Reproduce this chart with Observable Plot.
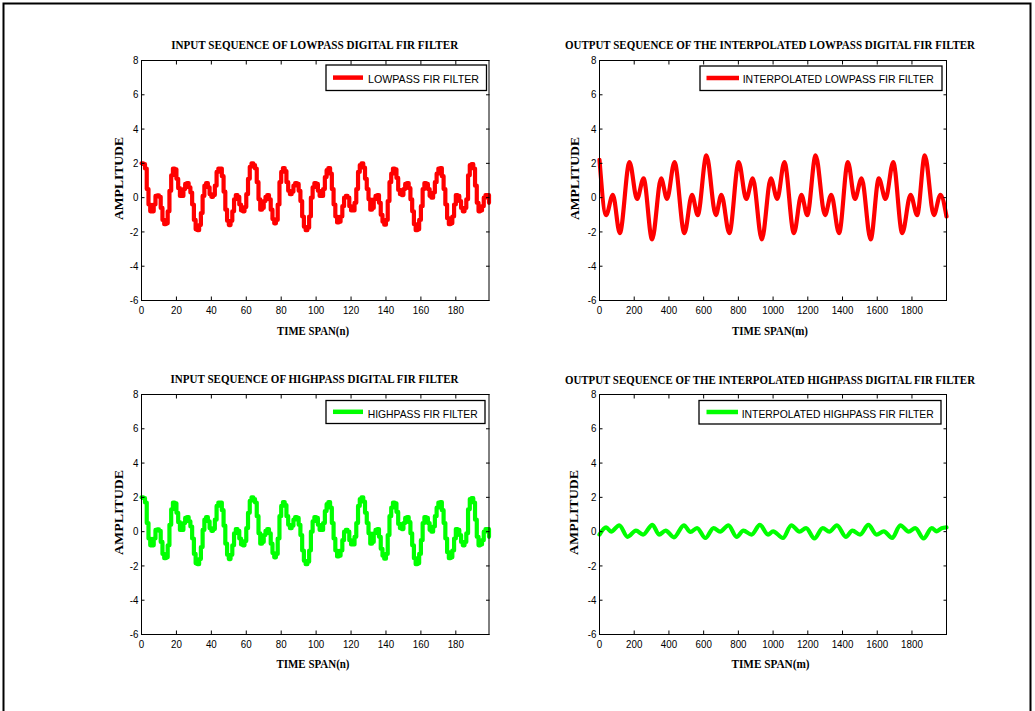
<!DOCTYPE html>
<html><head><meta charset="utf-8">
<script src="https://cdn.jsdelivr.net/npm/d3@7"></script>
<script src="https://cdn.jsdelivr.net/npm/@observablehq/plot@0.6"></script>
<style>
html,body{margin:0;padding:0;background:#fff;}
#root{position:relative;width:1035px;height:711px;overflow:hidden;background:#fff;}
#root > svg{position:absolute;overflow:visible;}
</style></head><body><div id="root"></div>
<script>
// ---------- DATA ----------
// input sequence x(n), n = 0..199 (same sequence feeds both filters)
const inputSeq = [
  2.0, 1.95, 1.7, 0.5, -0.4, -0.8, -0.8, -0.4, 0.1, 0.13,
  0.05, -0.6, -1.3, -1.55, -1.5, -0.8, 0.4, 1.3, 1.7, 1.65,
  1.1, 0.55, 0.1, 0.1, 0.5, 0.8, 0.85, 0.6, 0.3, -0.4,
  -1.3, -1.85, -1.9, -1.6, -0.9, 0.1, 0.7, 0.85, 0.6, 0.2,
  0.05, 0.15, 0.7, 1.5, 1.7, 1.7, 1.25, 0.35, -0.7, -1.35,
  -1.6, -1.35, -0.8, -0.1, 0.15, 0.05, -0.4, -0.75, -0.8, -0.55,
  0.2, 1.1, 1.8, 2.0, 1.9, 1.7, 0.9, -0.1, -0.7, -0.6,
  -0.2, 0.05, 0.15, -0.1, -0.7, -1.25, -1.5, -1.3, -0.4, 0.9,
  1.5, 1.73, 1.55, 0.9, 0.4, 0.2, 0.35, 0.7, 0.85, 0.8,
  0.4, -0.2, -1.1, -1.7, -1.9, -1.75, -1.1, 0.0, 0.6, 0.85,
  0.8, 0.4, 0.1, 0.1, 0.5, 1.2, 1.6, 1.73, 1.4, 0.5,
  -0.4, -1.1, -1.45, -1.4, -1.1, -0.5, 0.0, 0.1, 0.0, -0.5,
  -0.75, -0.75, -0.3, 0.5, 1.5, 1.9, 2.0, 1.75, 1.1, 0.5,
  -0.1, -0.7, -0.6, -0.1, 0.1, 0.15, -0.3, -1.0, -1.4, -1.58,
  -1.3, -0.2, 0.9, 1.4, 1.7, 1.65, 1.15, 0.45, 0.2, 0.15,
  0.5, 0.8, 0.85, 0.55, -0.1, -0.8, -1.55, -1.9, -1.85, -1.3,
  -0.5, 0.5, 0.85, 0.8, 0.5, 0.1, 0.0, 0.3, 0.9, 1.4,
  1.7, 1.73, 1.25, 0.5, -0.4, -1.2, -1.55, -1.5, -1.1, -0.4,
  0.15, 0.1, -0.2, -0.6, -0.8, -0.6, -0.1, 1.3, 1.9, 1.95,
  1.7, 0.7, -0.3, -0.8, -0.75, -0.5, 0.0, 0.15, 0.15, -0.3
];
// interpolated lowpass output: m positions and amplitudes of turning points
const lowOutM = [0, 38, 77, 117, 173, 216, 254, 303, 355, 389, 432, 489, 533, 566, 616, 670, 702, 748, 802, 845, 883, 935, 987, 1024, 1065, 1120, 1163, 1197, 1245, 1299, 1335, 1380, 1431, 1471, 1510, 1562, 1609, 1648, 1692, 1744, 1792, 1830, 1874, 1926, 1964, 1999];
const lowOutV = [2.2, -1.02, 0.17, -2.07, 2.08, -0.08, 1.12, -2.44, 1.12, -0.08, 2.08, -2.07, 0.17, -1.02, 2.47, -1.02, 0.17, -2.07, 2.08, -0.08, 1.12, -2.44, 1.12, -0.08, 2.08, -2.07, 0.17, -1.02, 2.47, -1.02, 0.17, -2.07, 2.08, -0.08, 1.12, -2.44, 1.12, -0.08, 2.08, -2.07, 0.17, -1.02, 2.47, -1.02, 0.17, -1.1];
// interpolated highpass output: m positions and amplitudes of turning points
const highOutM = [0, 38, 67, 114, 162, 210, 251, 305, 343, 381, 429, 486, 524, 562, 610, 657, 695, 743, 790, 829, 876, 924, 971, 1000, 1057, 1105, 1152, 1190, 1238, 1286, 1324, 1368, 1419, 1457, 1501, 1549, 1596, 1638, 1686, 1733, 1781, 1819, 1867, 1914, 1943, 1971, 1999];
const highOutV = [-0.17, 0.25, 0.0, 0.37, -0.3, 0.06, -0.17, 0.4, -0.17, 0.06, -0.33, 0.37, -0.02, 0.21, -0.37, 0.21, 0.0, 0.37, -0.3, 0.06, -0.17, 0.4, -0.17, 0.02, -0.37, 0.37, 0.0, 0.21, -0.4, 0.21, 0.0, 0.37, -0.3, 0.06, -0.17, 0.4, -0.17, 0.02, -0.37, 0.37, 0.0, 0.21, -0.4, 0.21, 0.02, 0.2, 0.25];

const ticksN = [0, 20, 40, 60, 80, 100, 120, 140, 160, 180];
const ticksM = [0, 200, 400, 600, 800, 1000, 1200, 1400, 1600, 1800];
const ticksY = [-6, -4, -2, 0, 2, 4, 6, 8];
const yDomain = [-6, 8];

const titles = [
  "INPUT SEQUENCE OF LOWPASS DIGITAL FIR FILTER",
  "OUTPUT SEQUENCE OF THE INTERPOLATED LOWPASS DIGITAL FIR FILTER",
  "INPUT SEQUENCE OF HIGHPASS DIGITAL FIR FILTER",
  "OUTPUT SEQUENCE OF THE INTERPOLATED HIGHPASS DIGITAL FIR FILTER"
];
const legendNames = ["LOWPASS FIR FILTER", "INTERPOLATED LOWPASS FIR FILTER", "HIGHPASS FIR FILTER", "INTERPOLATED HIGHPASS FIR FILTER"];
const xLabels = ["TIME SPAN(n)", "TIME SPAN(m)", "TIME SPAN(n)", "TIME SPAN(m)"];
const yLabel = "AMPLITUDE";
const colors = ["#ff0000", "#ff0000", "#00ff00", "#00ff00"];

// ---------- TABLES ----------
const inputTable = inputSeq.map((v, i) => ({t: i, v}));
const lowOutTable = lowOutM.map((m, i) => ({t: m, v: lowOutV[i]}));
const highOutTable = highOutM.map((m, i) => ({t: m, v: highOutV[i]}));

// ---------- LAYOUT ----------
const panels = [
  {fx0: 141, fx1: 488.5, fy0: 59.5, fy1: 299.5, data: inputTable, xd: [0, 199], xt: ticksN, curve: "step-after",
   title: {x: 314.7, y: 49.3, len: 287}, xl: {x: 313, y: 334.5, len: 72}, yl: {x: 122.5, y: 178.5, len: 83},
   lg: {x: 326, y: 65, w: 160.5, h: 25.5, l0: 333, l1: 363, ly: 77.6, tx: 368, ty: 82.8, tl: 111}},
  {fx0: 598.5, fx1: 945.5, fy0: 59.5, fy1: 299.5, data: lowOutTable, xd: [0, 1999], xt: ticksM, curve: "monotone-x",
   title: {x: 770, y: 49.3, len: 410}, xl: {x: 770, y: 334.5, len: 76}, yl: {x: 579, y: 178.5, len: 83},
   lg: {x: 700, y: 66, w: 242, h: 24.5, l0: 706.5, l1: 739, ly: 78, tx: 742.7, ty: 83.3, tl: 191}},
  {fx0: 141, fx1: 488.5, fy0: 393.5, fy1: 633.5, data: inputTable, xd: [0, 199], xt: ticksN, curve: "step-after",
   title: {x: 314.5, y: 383.3, len: 288}, xl: {x: 313, y: 668, len: 73}, yl: {x: 122.5, y: 512.5, len: 85},
   lg: {x: 326, y: 400.5, w: 159, h: 23, l0: 333, l1: 363, ly: 411.8, tx: 367.7, ty: 417.6, tl: 110}},
  {fx0: 598.5, fx1: 945.5, fy0: 393.5, fy1: 633.5, data: highOutTable, xd: [0, 1999], xt: ticksM, curve: "monotone-x",
   title: {x: 770, y: 383.8, len: 410}, xl: {x: 770.5, y: 668, len: 78}, yl: {x: 578, y: 512.5, len: 85},
   lg: {x: 699, y: 400.5, w: 242, h: 23.5, l0: 706.5, l1: 738, ly: 412, tx: 741.7, ty: 417.6, tl: 192}}
];

const root = document.getElementById("root");
const ML = 50, MR = 30, MT = 20, MB = 40;
const fmt = d => String(d);

panels.forEach((p, i) => {
  const w = p.fx1 - p.fx0, h = p.fy1 - p.fy0;
  const chart = Plot.plot({
    width: w + ML + MR, height: h + MT + MB,
    marginLeft: ML, marginRight: MR, marginTop: MT, marginBottom: MB,
    x: {domain: p.xd},
    y: {domain: yDomain},
    style: {fontFamily: "'Liberation Sans', Arial, sans-serif", fontSize: "11.5px", color: "#000", background: "transparent", overflow: "visible"},
    marks: [
      Plot.line(p.data, {x: "t", y: "v", stroke: colors[i], strokeWidth: 4.2, curve: p.curve, strokeLinejoin: "round"}),
      Plot.frame({stroke: "#000", strokeWidth: 1}),
      Plot.axisX(p.xt, {anchor: "bottom", tickSize: -3.5, tickPadding: 9, tickFormat: fmt, label: null}),
      Plot.axisX(p.xt, {anchor: "top", tickSize: -3.5, tickFormat: () => "", label: null}),
      Plot.axisY(ticksY, {anchor: "left", tickSize: -3.5, tickPadding: 6.5, tickFormat: fmt, label: null}),
      Plot.axisY(ticksY, {anchor: "right", tickSize: -3.5, tickFormat: () => "", label: null})
    ]
  });
  chart.style.left = (p.fx0 - ML) + "px";
  chart.style.top = (p.fy0 - MT) + "px";
  root.appendChild(chart);
  // horizontally squeeze tick labels as in the reference
  d3.select(chart).selectAll("g[aria-label$='tick label'] text").each(function () {
    const t = this.textContent;
    if (!t) return;
    const L = this.getComputedTextLength();
    this.setAttribute("textLength", (L * 0.85).toFixed(2));
    this.setAttribute("lengthAdjust", "spacingAndGlyphs");
  });
});

// ---------- OVERLAY: titles, axis labels, legends, border ----------
const ov = d3.select(root).append("svg")
  .attr("width", 1035).attr("height", 711)
  .style("left", "0px").style("top", "0px").style("pointer-events", "none");

ov.append("rect").attr("x", 3.5).attr("y", 3.5).attr("width", 1027).attr("height", 730)
  .attr("fill", "none").attr("stroke", "#000").attr("stroke-width", 2);

const serif = "'Liberation Serif', 'Times New Roman', serif";
panels.forEach((p, i) => {
  ov.append("text").attr("x", p.title.x).attr("y", p.title.y)
    .attr("text-anchor", "middle").attr("font-family", serif).attr("font-weight", "bold").attr("font-size", 12.5)
    .attr("textLength", p.title.len).attr("lengthAdjust", "spacingAndGlyphs").text(titles[i]);
  ov.append("text").attr("x", p.xl.x).attr("y", p.xl.y)
    .attr("text-anchor", "middle").attr("font-family", serif).attr("font-weight", "bold").attr("font-size", 13)
    .attr("textLength", p.xl.len).attr("lengthAdjust", "spacingAndGlyphs").text(xLabels[i]);
  ov.append("text").attr("transform", `translate(${p.yl.x},${p.yl.y}) rotate(-90)`)
    .attr("text-anchor", "middle").attr("font-family", serif).attr("font-weight", "bold").attr("font-size", 13.5)
    .attr("textLength", p.yl.len).attr("lengthAdjust", "spacingAndGlyphs").text(yLabel);
  const g = p.lg;
  ov.append("rect").attr("x", g.x).attr("y", g.y).attr("width", g.w).attr("height", g.h)
    .attr("fill", "#fff").attr("stroke", "#000").attr("stroke-width", 1.3);
  ov.append("line").attr("x1", g.l0).attr("x2", g.l1).attr("y1", g.ly).attr("y2", g.ly)
    .attr("stroke", colors[i]).attr("stroke-width", 4.5);
  ov.append("text").attr("x", g.tx).attr("y", g.ty)
    .attr("font-family", "'Liberation Sans', Arial, sans-serif").attr("font-size", 11.5)
    .attr("textLength", g.tl).attr("lengthAdjust", "spacingAndGlyphs").text(legendNames[i]);
});
</script></body></html>
